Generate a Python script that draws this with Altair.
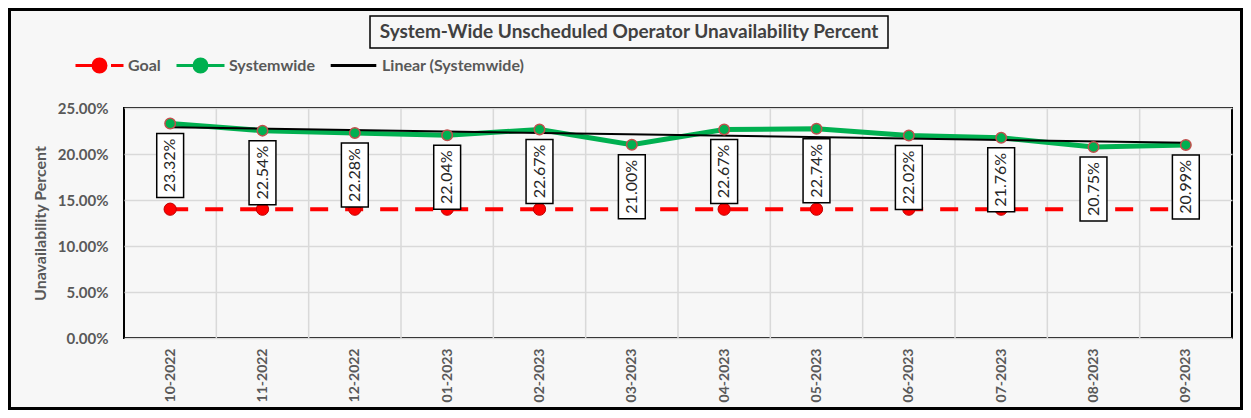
import altair as alt
import pandas as pd

# ---- data ----
months = ["10-2022", "11-2022", "12-2022", "01-2023", "02-2023", "03-2023",
          "04-2023", "05-2023", "06-2023", "07-2023", "08-2023", "09-2023"]
systemwide_pct = [23.32, 22.54, 22.28, 22.04, 22.67, 21.00, 22.67, 22.74, 22.02, 21.76, 20.75, 20.99]
goal_pct = [14.0, 14.0, 14.0, 14.0, 14.0, 14.0, 14.0, 14.0, 14.0, 14.0, 14.0, 14.0]
series_names = ["Goal", "Systemwide", "Linear (Systemwide)"]
series_colors = ["#ff0000", "#00b050", "#000000"]
y_ticks = [0.0, 0.05, 0.10, 0.15, 0.20, 0.25]
title_text = "System-Wide Unscheduled Operator Unavailability Percent"
y_title = "Unavailability Percent"

W, H = 1108, 230
FONT = "Lato"
GREY = "#595959"

idx = list(range(len(months)))
df = pd.DataFrame({
    "idx": idx,
    "month": months,
    "sys": [v / 100 for v in systemwide_pct],
    "goal": [v / 100 for v in goal_pct],
})
bounds = pd.DataFrame({"idx": [i + 0.5 for i in idx[:-1]]})
legend_df = pd.DataFrame({"series": series_names})
one = pd.DataFrame({"k": [0]})

label_expr = "[" + ",".join("'%s'" % m for m in months) + "][datum.value]"
xscale = alt.Scale(domain=[-0.5, len(months) - 0.5], nice=False, zero=False)
yscale = alt.Scale(domain=[0, 0.25], nice=False)

x_axis = alt.Axis(values=idx, labelExpr=label_expr, labelAngle=-90, title=None,
                  grid=False, ticks=False, domain=False, labelPadding=10,
                  labelFont=FONT, labelFontSize=14, labelFontWeight="bold",
                  labelColor=GREY)
y_axis = alt.Axis(values=y_ticks, format=".2%", title=y_title, grid=True,
                  gridColor="#d9d9d9", gridWidth=1.5, ticks=False, domain=False,
                  labelPadding=16, labelFont=FONT, labelFontSize=15,
                  labelFontWeight="bold", labelColor=GREY, titleFont=FONT,
                  titleFontSize=16, titleFontWeight="bold", titleColor=GREY,
                  titlePadding=9)


def X(field="idx"):
    return alt.X(field + ":Q", scale=xscale, axis=x_axis)


def Y(field):
    return alt.Y(field + ":Q", scale=yscale, axis=y_axis)


# vertical grid lines between categories
vgrid = alt.Chart(bounds).mark_rule(color="#d9d9d9", strokeWidth=1.5).encode(x=X())

base = alt.Chart(df)

goal_line = base.mark_line(color="#ff0000", strokeWidth=4, strokeDash=[18, 17]).encode(
    x=X(), y=Y("goal"))
goal_pts = base.mark_point(filled=True, fill="#ff0000", stroke="#c00000",
                           strokeWidth=1, size=150, opacity=1).encode(x=X(), y=Y("goal"))

sys_line = base.mark_line(color="#00b050", strokeWidth=5).encode(x=X(), y=Y("sys"))

trend = base.transform_regression("idx", "sys", method="linear",
                                  extent=[0, len(months) - 1]).mark_line(
    color="#000000", strokeWidth=2).encode(x=X(), y=Y("sys"))

sys_pts = base.mark_point(filled=True, fill="#00b050", stroke="#c0504d",
                          strokeWidth=1.5, size=110, opacity=1).encode(x=X(), y=Y("sys"))

box_path = "M-0.42,-1H0.42V1H-0.42Z"
boxes = base.mark_point(shape=box_path, size=4096, filled=True, fill="white",
                        stroke="black", strokeWidth=1.5, opacity=1, yOffset=42).encode(
    x=X(), y=Y("sys"))
labels = base.mark_text(angle=270, yOffset=42, font=FONT, fontSize=16,
                        color="#262626", align="center", baseline="middle").encode(
    x=X(), y=Y("sys"), text=alt.Text("sys:Q", format=".2%"))

# legend (symbols: line + marker)
circ = "M-0.27,0A0.27,0.27 0 1,1 0.27,0A0.27,0.27 0 1,1 -0.27,0Z"
legend_shapes = [
    "M-1,0H-0.27M0.48,0H1" + circ,
    "M-1,0H1" + circ,
    "M-0.95,0H0.95M0,-0.27L0,-0.27M0,0.27L0,0.27",
]
leg = alt.Legend(orient="none", legendX=-50, legendY=-68, direction="horizontal",
                 title=None, symbolSize=2304, symbolStrokeWidth=3, padding=0,
                 columnPadding=9, labelOffset=3, labelFont=FONT, labelFontSize=16,
                 labelFontWeight="bold", labelColor=GREY)
legend_layer = alt.Chart(legend_df).transform_filter("false").mark_point(
    filled=True, opacity=1).encode(
    shape=alt.Shape("series:N", scale=alt.Scale(domain=series_names, range=legend_shapes), legend=leg),
    fill=alt.Fill("series:N", scale=alt.Scale(domain=series_names, range=series_colors), legend=leg),
    stroke=alt.Stroke("series:N", scale=alt.Scale(domain=series_names, range=series_colors), legend=leg),
)

# outer frame, title box and title
frame = alt.Chart(one).mark_rect(fillOpacity=0, stroke="black", strokeWidth=3).encode(
    x=alt.value(-114.5), x2=alt.value(W + 11 - 1.5),
    y=alt.value(-98.5), y2=alt.value(H + 72 - 1.5),
)
title_box = alt.Chart(one).mark_rect(fillOpacity=0, stroke="black", strokeWidth=1.5).encode(
    x=alt.value(246), x2=alt.value(764), y=alt.value(-92), y2=alt.value(-60),
)
title = alt.Chart(one).mark_text(font=FONT, fontSize=19, fontWeight="bold",
                                 color="#404040", align="center", baseline="middle").encode(
    x=alt.value(505), y=alt.value(-76), text=alt.value(title_text),
)

chart = alt.layer(
    vgrid, goal_line, goal_pts, sys_line, trend, boxes, labels, sys_pts,
    legend_layer, frame, title_box, title,
).properties(
    width=W, height=H,
    autosize=alt.AutoSizeParams(type="none"),
    padding={"left": 116, "top": 100, "right": 11, "bottom": 72},
    background="#f7f7f7",
).configure_view(stroke="black", strokeWidth=2, fill="white")

chart.save("out.html", embed_options={"renderer": "svg", "actions": False})
